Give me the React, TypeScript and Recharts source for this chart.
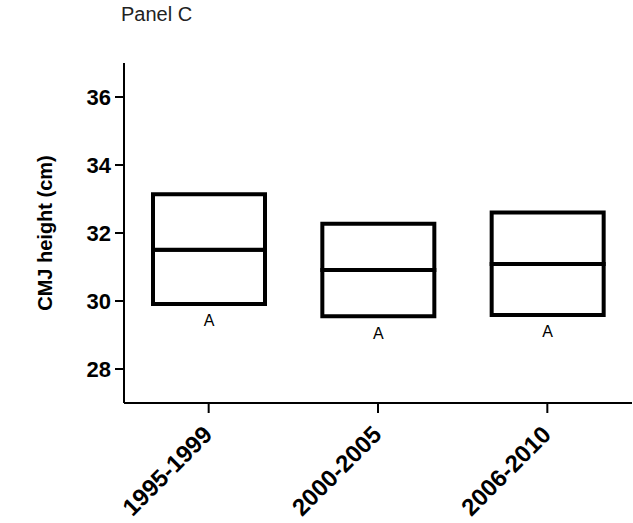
import { Bar, ComposedChart, LabelList, XAxis, YAxis } from "recharts";

// Box bottom / middle line / box top, per period.
const periods = ["1995-1999", "2000-2005", "2006-2010"];
const lows = [29.91, 29.55, 29.59];
const mids = [31.51, 30.91, 31.09];
const highs = [33.14, 32.27, 32.6];
const groupLetters = ["A", "A", "A"];
const yTicks = [28, 30, 32, 34, 36];

const FONT = "'Liberation Sans', Arial, Helvetica, sans-serif";

// Stacked: an invisible base up to the box bottom, then the two halves of the box.
const data = periods.map((period, i) => ({
  period,
  base: lows[i],
  lower: mids[i] - lows[i],
  upper: highs[i] - mids[i],
  letter: groupLetters[i],
}));

function PeriodTick(props: any) {
  const { x, y, payload } = props;
  return (
    <g transform={`translate(${x - 7},${y + 9})`}>
      <text
        transform="rotate(-45)"
        textAnchor="end"
        dy="0.71em"
        fontFamily={FONT}
        fontWeight="bold"
        fontSize={24}
        fill="#000"
      >
        {payload.value}
      </text>
    </g>
  );
}

export default function App() {
  return (
    <div style={{ position: "absolute", left: 0, top: 0, background: "#fff" }}>
      <ComposedChart
        width={633}
        height={523}
        data={data}
        margin={{ top: 63, right: 1, bottom: 20, left: 0 }}
        barCategoryGap={0}
      >
        <text x={121} y={21} fontFamily={FONT} fontSize={20} fill="#222">
          Panel C
        </text>
        <XAxis
          dataKey="period"
          type="category"
          height={100}
          tick={<PeriodTick />}
          tickSize={10}
          tickLine={{ stroke: "#000", strokeWidth: 2 }}
          axisLine={{ stroke: "#000", strokeWidth: 2 }}
          interval={0}
        />
        <YAxis
          type="number"
          domain={[27, 37]}
          allowDataOverflow
          ticks={yTicks}
          width={124}
          tickSize={9}
          tickMargin={4}
          tick={{ fill: "#000", fontSize: 22, fontWeight: "bold", fontFamily: FONT }}
          tickLine={{ stroke: "#000", strokeWidth: 2 }}
          axisLine={{ stroke: "#000", strokeWidth: 2 }}
          label={{
            content: ({ viewBox }: any) => {
              const cx = viewBox.x + 45;
              const cy = viewBox.y + viewBox.height / 2;
              return (
                <text
                  x={cx}
                  y={cy}
                  transform={`rotate(-90,${cx},${cy})`}
                  textAnchor="middle"
                  dominantBaseline="central"
                  fontFamily={FONT}
                  fontWeight="bold"
                  fontSize={20}
                  fill="#000"
                >
                  CMJ height (cm)
                </text>
              );
            },
          }}
        />
        <Bar
          dataKey="base"
          stackId="box"
          barSize={112}
          fill="none"
          stroke="none"
          isAnimationActive={false}
        />
        <Bar
          dataKey="lower"
          stackId="box"
          barSize={112}
          fill="#fff"
          stroke="#000"
          strokeWidth={4}
          isAnimationActive={false}
        >
          <LabelList
            dataKey="letter"
            position="bottom"
            offset={11}
            fill="#000"
            fontSize={16}
            fontFamily={FONT}
          />
        </Bar>
        <Bar
          dataKey="upper"
          stackId="box"
          barSize={112}
          fill="#fff"
          stroke="#000"
          strokeWidth={4}
          isAnimationActive={false}
        />
      </ComposedChart>
    </div>
  );
}
